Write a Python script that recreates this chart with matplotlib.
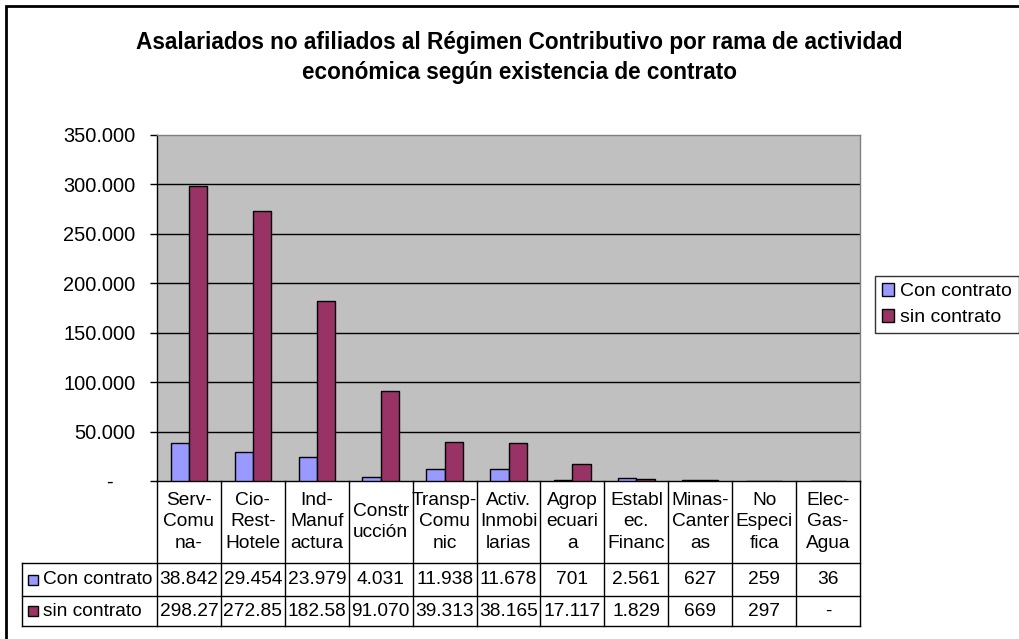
import matplotlib
matplotlib.use("Agg")
import matplotlib.pyplot as plt
from matplotlib.patches import Rectangle
from matplotlib.lines import Line2D

plt.rcParams['font.family'] = ['Liberation Sans', 'DejaVu Sans']

W, H = 1019, 639

categories = [["Serv-", "Comu", "na-"], ["Cio-", "Rest-", "Hotele"], ["Ind-", "Manuf", "actura"],
              ["Constr", "ucción"], ["Transp-", "Comu", "nic"], ["Activ.", "Inmobi", "larias"],
              ["Agrop", "ecuari", "a"], ["Establ", "ec.", "Financ"], ["Minas-", "Canter", "as"],
              ["No", "Especi", "fica"], ["Elec-", "Gas-", "Agua"]]
series_names = ["Con contrato", "sin contrato"]
con_contrato = [38842, 29454, 23979, 4031, 11938, 11678, 701, 2561, 627, 259, 36]
sin_contrato = [298270, 272850, 182580, 91070, 39313, 38165, 17117, 1829, 669, 297, 0]
con_labels = ["38.842", "29.454", "23.979", "4.031", "11.938", "11.678", "701", "2.561", "627", "259", "36"]
sin_labels = ["298.27", "272.85", "182.58", "91.070", "39.313", "38.165", "17.117", "1.829", "669", "297", "-"]
yticks = [0, 50000, 100000, 150000, 200000, 250000, 300000, 350000]
ytick_labels = ["-    ", "50.000", "100.000", "150.000", "200.000", "250.000", "300.000", "350.000"]
colors = ["#9999FF", "#993366"]

fig = plt.figure(figsize=(W / 100, H / 100), dpi=100)

def fx(x):
    return x / W

def fy(y):
    return 1 - y / H

# outer chart border
fig.add_artist(Rectangle((fx(5.5), fy(H + 5)), fx(W + 5), fy(5.5) - fy(H + 5),
                         transform=fig.transFigure, fill=False, edgecolor="black", lw=2))

# title
fig.text(fx(519), fy(42), "Asalariados no afiliados al Régimen Contributivo por rama de actividad",
         ha="center", va="center", fontsize=16.3, fontweight="bold")
fig.text(fx(519), fy(72), "económica según existencia de contrato",
         ha="center", va="center", fontsize=16.3, fontweight="bold")

L, R, T, B = 157, 860, 135, 481
ax = fig.add_axes([fx(L), fy(B), fx(R - L), fy(T) - fy(B)])
ax.set_facecolor("#C0C0C0")
n = len(categories)
x = list(range(n))
bw = 0.285
ax.bar([i - bw / 2 for i in x], con_contrato, width=bw, color=colors[0], edgecolor="black", lw=1, zorder=3)
ax.bar([i + bw / 2 for i in x], sin_contrato, width=bw, color=colors[1], edgecolor="black", lw=1, zorder=3)
ax.set_xlim(-0.5, n - 0.5)
ax.set_ylim(0, 350000)
ax.set_yticks(yticks)
ax.set_yticklabels(ytick_labels, fontsize=14.4)
ax.tick_params(axis="y", direction="out", length=5, width=1, pad=10.5)
ax.set_xticks([])
for yv in yticks[1:-1]:
    ax.axhline(yv, color="black", lw=1, zorder=1)
ax.spines["left"].set_color("black")
ax.spines["bottom"].set_color("black")
ax.spines["top"].set_color("#808080")
ax.spines["right"].set_color("#808080")
for s in ax.spines.values():
    s.set_linewidth(1)

# data table
cw = (R - L) / n
hdr_bot, r1_bot, r2_bot = 563, 596, 626
tl = 22
lc = "black"
def hline(y, x0, x1):
    fig.add_artist(Line2D([fx(x0), fx(x1)], [fy(y), fy(y)], transform=fig.transFigure, color=lc, lw=1))
def vline(xp, y0, y1):
    fig.add_artist(Line2D([fx(xp), fx(xp)], [fy(y0), fy(y1)], transform=fig.transFigure, color=lc, lw=1))

hline(hdr_bot, tl, R)
hline(r1_bot, tl, R)
hline(r2_bot, tl, R)
vline(tl, hdr_bot, r2_bot)
for i in range(n + 1):
    vline(L + i * cw, B, r2_bot)

tfs = 13.8
lh = 21.5
for i, lines in enumerate(categories):
    cx = L + (i + 0.5) * cw
    cy = (B + hdr_bot) / 2
    k = len(lines)
    for j, t in enumerate(lines):
        yy = cy + (j - (k - 1) / 2) * lh
        fig.text(fx(cx), fy(yy), t, ha="center", va="center", fontsize=tfs)
    fig.text(fx(cx), fy((hdr_bot + r1_bot) / 2), con_labels[i], ha="center", va="center", fontsize=tfs)
    fig.text(fx(cx), fy((r1_bot + r2_bot) / 2), sin_labels[i], ha="center", va="center", fontsize=tfs)

for k, (name, ybot, ytop) in enumerate([(series_names[0], r1_bot, hdr_bot), (series_names[1], r2_bot, r1_bot)]):
    cy = (ybot + ytop) / 2
    fig.add_artist(Rectangle((fx(28), fy(cy + 5)), fx(10), fy(cy - 5) - fy(cy + 5),
                             transform=fig.transFigure, facecolor=colors[k], edgecolor="black", lw=1))
    fig.text(fx(43), fy(cy), name, ha="left", va="center", fontsize=tfs)

# legend
leg = fig.legend(handles=[Rectangle((0, 0), 1, 1, facecolor=c, edgecolor="black", lw=1) for c in colors],
                 labels=series_names, loc="upper left", bbox_to_anchor=(fx(875), fy(276)),
                 frameon=True, fancybox=False, edgecolor="black", fontsize=14,
                 handlelength=0.65, handleheight=0.65, handletextpad=0.3, borderpad=0.35,
                 labelspacing=0.45, borderaxespad=0)
leg.get_frame().set_linewidth(1)

fig.savefig("out.png", dpi=100)
